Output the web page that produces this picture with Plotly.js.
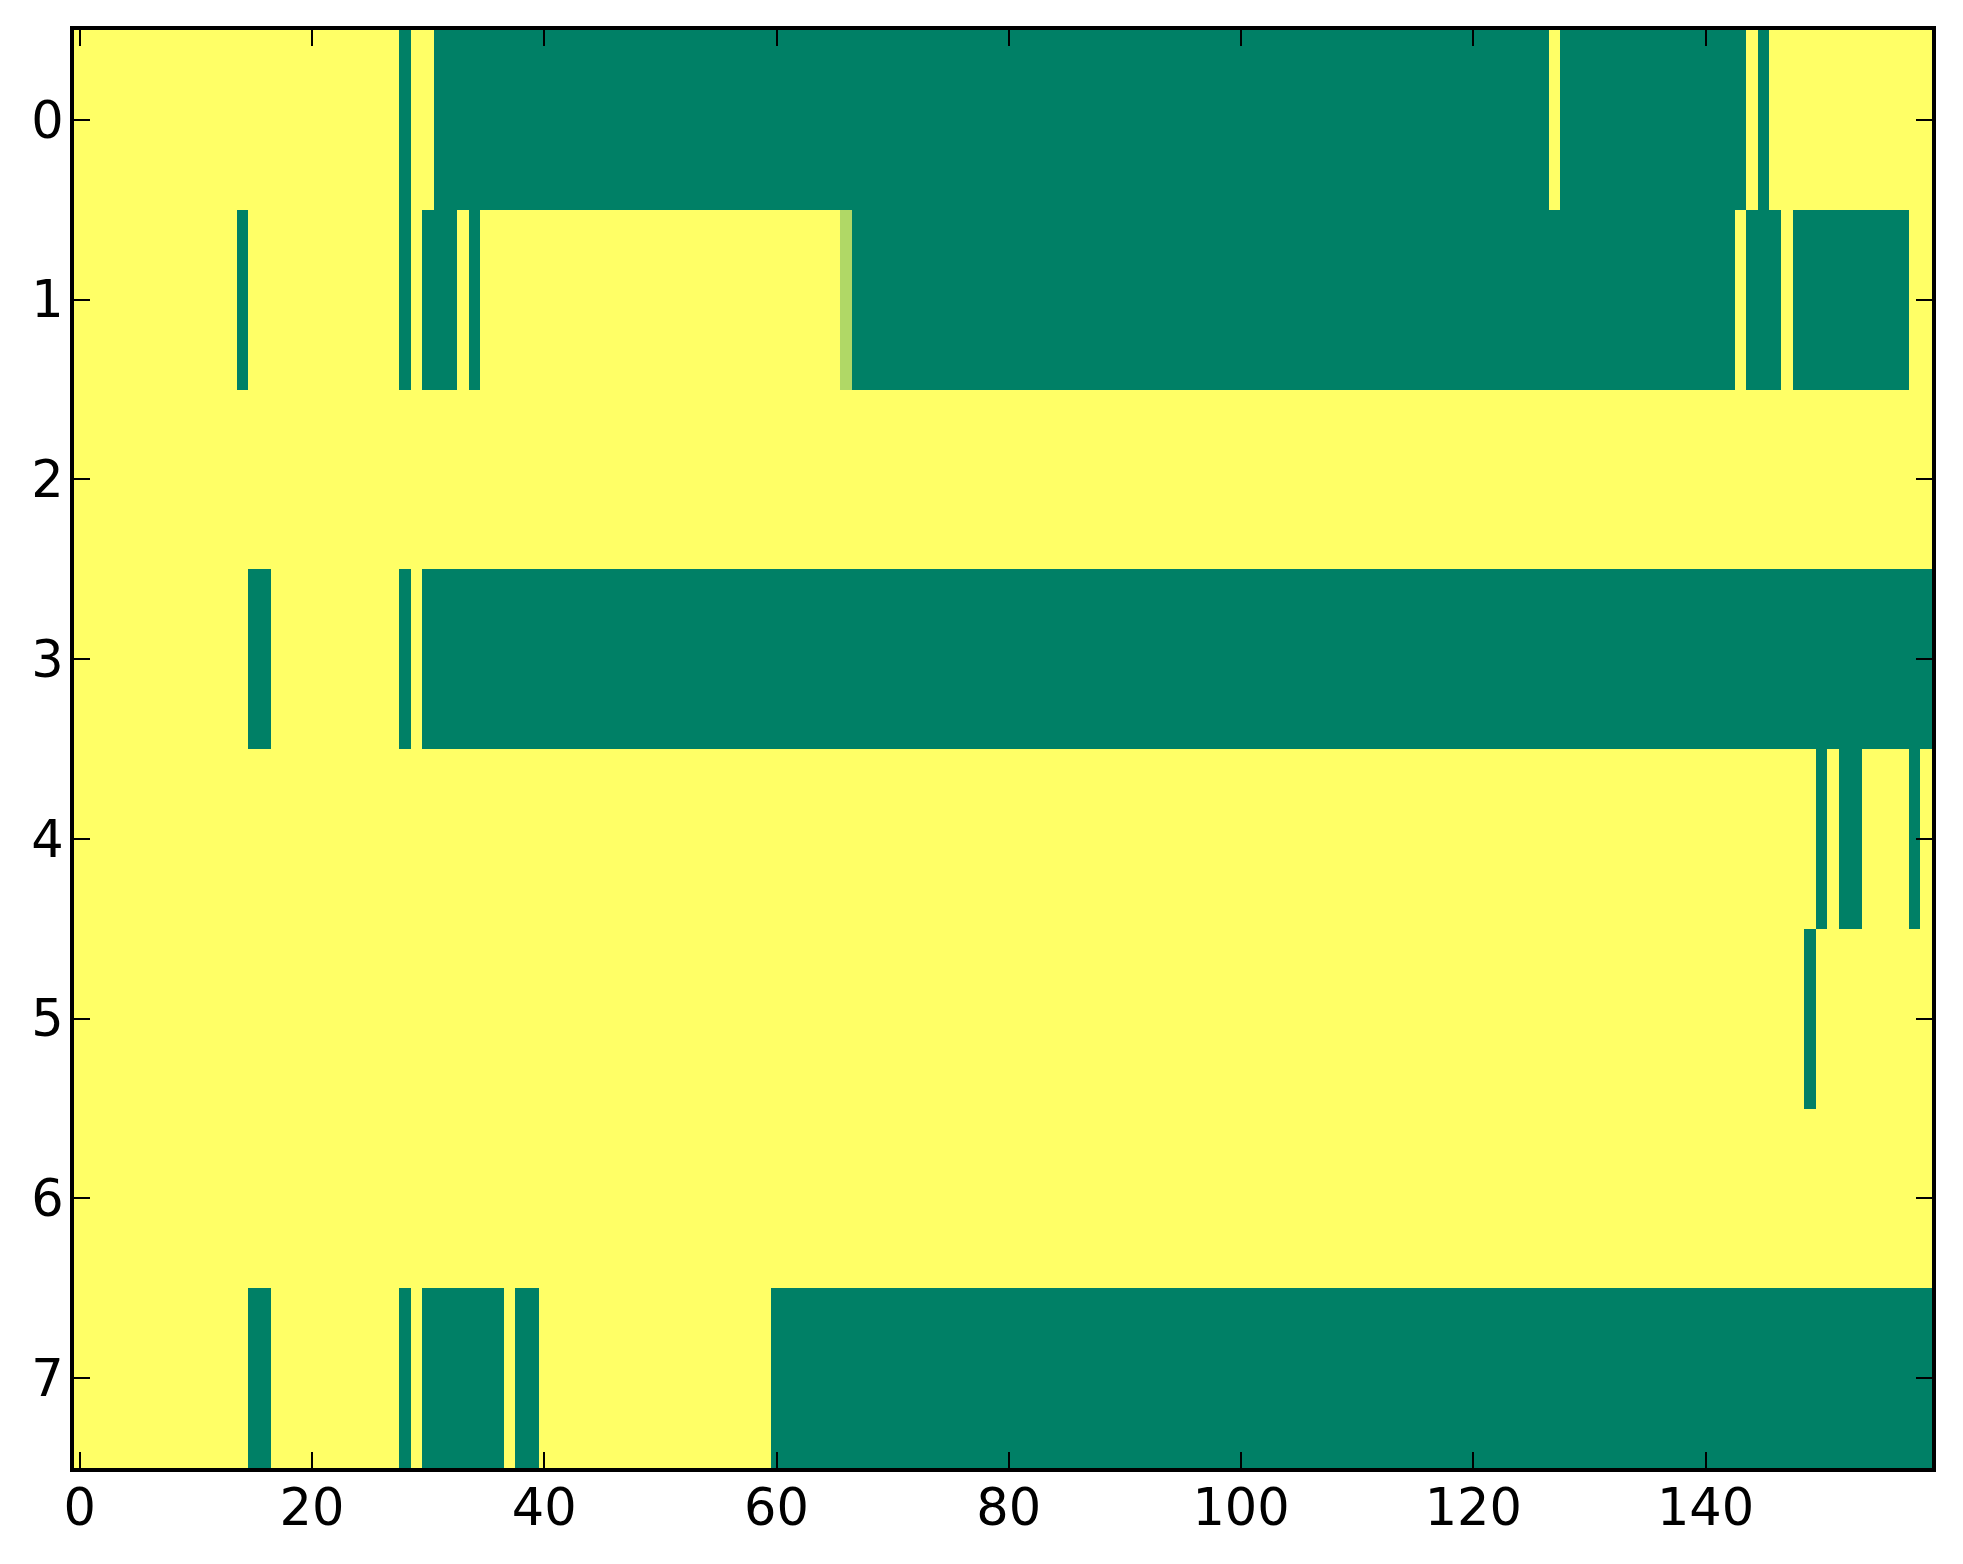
<!DOCTYPE html>
<html>
<head>
<meta charset="utf-8">
<script src="https://cdn.plot.ly/plotly-3.0.1.min.js"></script>
<style>
html,body{margin:0;padding:0;background:#fff;}
#chart{width:1963px;height:1564px;}
</style>
</head>
<body>
<div id="chart"></div>
<script>
// Cell values: 1 = high (yellow), 0 = low (green)
const row0 = [
  1,1,1,1,1,1,1,1,1,1,
  1,1,1,1,1,1,1,1,1,1,
  1,1,1,1,1,1,1,1,0,1,
  1,0,0,0,0,0,0,0,0,0,
  0,0,0,0,0,0,0,0,0,0,
  0,0,0,0,0,0,0,0,0,0,
  0,0,0,0,0,0,0,0,0,0,
  0,0,0,0,0,0,0,0,0,0,
  0,0,0,0,0,0,0,0,0,0,
  0,0,0,0,0,0,0,0,0,0,
  0,0,0,0,0,0,0,0,0,0,
  0,0,0,0,0,0,0,0,0,0,
  0,0,0,0,0,0,0,1,0,0,
  0,0,0,0,0,0,0,0,0,0,
  0,0,0,0,1,0,1,1,1,1,
  1,1,1,1,1,1,1,1,1,1
];
const row1 = [
  1,1,1,1,1,1,1,1,1,1,
  1,1,1,1,0,1,1,1,1,1,
  1,1,1,1,1,1,1,1,0,1,
  0,0,0,1,0,1,1,1,1,1,
  1,1,1,1,1,1,1,1,1,1,
  1,1,1,1,1,1,1,1,1,1,
  1,1,1,1,1,1,0.69,0,0,0,
  0,0,0,0,0,0,0,0,0,0,
  0,0,0,0,0,0,0,0,0,0,
  0,0,0,0,0,0,0,0,0,0,
  0,0,0,0,0,0,0,0,0,0,
  0,0,0,0,0,0,0,0,0,0,
  0,0,0,0,0,0,0,0,0,0,
  0,0,0,0,0,0,0,0,0,0,
  0,0,0,1,0,0,0,1,0,0,
  0,0,0,0,0,0,0,0,1,1
];
const row2 = [
  1,1,1,1,1,1,1,1,1,1,
  1,1,1,1,1,1,1,1,1,1,
  1,1,1,1,1,1,1,1,1,1,
  1,1,1,1,1,1,1,1,1,1,
  1,1,1,1,1,1,1,1,1,1,
  1,1,1,1,1,1,1,1,1,1,
  1,1,1,1,1,1,1,1,1,1,
  1,1,1,1,1,1,1,1,1,1,
  1,1,1,1,1,1,1,1,1,1,
  1,1,1,1,1,1,1,1,1,1,
  1,1,1,1,1,1,1,1,1,1,
  1,1,1,1,1,1,1,1,1,1,
  1,1,1,1,1,1,1,1,1,1,
  1,1,1,1,1,1,1,1,1,1,
  1,1,1,1,1,1,1,1,1,1,
  1,1,1,1,1,1,1,1,1,1
];
const row3 = [
  1,1,1,1,1,1,1,1,1,1,
  1,1,1,1,1,0,0,1,1,1,
  1,1,1,1,1,1,1,1,0,1,
  0,0,0,0,0,0,0,0,0,0,
  0,0,0,0,0,0,0,0,0,0,
  0,0,0,0,0,0,0,0,0,0,
  0,0,0,0,0,0,0,0,0,0,
  0,0,0,0,0,0,0,0,0,0,
  0,0,0,0,0,0,0,0,0,0,
  0,0,0,0,0,0,0,0,0,0,
  0,0,0,0,0,0,0,0,0,0,
  0,0,0,0,0,0,0,0,0,0,
  0,0,0,0,0,0,0,0,0,0,
  0,0,0,0,0,0,0,0,0,0,
  0,0,0,0,0,0,0,0,0,0,
  0,0,0,0,0,0,0,0,0,0
];
const row4 = [
  1,1,1,1,1,1,1,1,1,1,
  1,1,1,1,1,1,1,1,1,1,
  1,1,1,1,1,1,1,1,1,1,
  1,1,1,1,1,1,1,1,1,1,
  1,1,1,1,1,1,1,1,1,1,
  1,1,1,1,1,1,1,1,1,1,
  1,1,1,1,1,1,1,1,1,1,
  1,1,1,1,1,1,1,1,1,1,
  1,1,1,1,1,1,1,1,1,1,
  1,1,1,1,1,1,1,1,1,1,
  1,1,1,1,1,1,1,1,1,1,
  1,1,1,1,1,1,1,1,1,1,
  1,1,1,1,1,1,1,1,1,1,
  1,1,1,1,1,1,1,1,1,1,
  1,1,1,1,1,1,1,1,1,1,
  0,1,0,0,1,1,1,1,0,1
];
const row5 = [
  1,1,1,1,1,1,1,1,1,1,
  1,1,1,1,1,1,1,1,1,1,
  1,1,1,1,1,1,1,1,1,1,
  1,1,1,1,1,1,1,1,1,1,
  1,1,1,1,1,1,1,1,1,1,
  1,1,1,1,1,1,1,1,1,1,
  1,1,1,1,1,1,1,1,1,1,
  1,1,1,1,1,1,1,1,1,1,
  1,1,1,1,1,1,1,1,1,1,
  1,1,1,1,1,1,1,1,1,1,
  1,1,1,1,1,1,1,1,1,1,
  1,1,1,1,1,1,1,1,1,1,
  1,1,1,1,1,1,1,1,1,1,
  1,1,1,1,1,1,1,1,1,1,
  1,1,1,1,1,1,1,1,1,0,
  1,1,1,1,1,1,1,1,1,1
];
const row6 = [
  1,1,1,1,1,1,1,1,1,1,
  1,1,1,1,1,1,1,1,1,1,
  1,1,1,1,1,1,1,1,1,1,
  1,1,1,1,1,1,1,1,1,1,
  1,1,1,1,1,1,1,1,1,1,
  1,1,1,1,1,1,1,1,1,1,
  1,1,1,1,1,1,1,1,1,1,
  1,1,1,1,1,1,1,1,1,1,
  1,1,1,1,1,1,1,1,1,1,
  1,1,1,1,1,1,1,1,1,1,
  1,1,1,1,1,1,1,1,1,1,
  1,1,1,1,1,1,1,1,1,1,
  1,1,1,1,1,1,1,1,1,1,
  1,1,1,1,1,1,1,1,1,1,
  1,1,1,1,1,1,1,1,1,1,
  1,1,1,1,1,1,1,1,1,1
];
const row7 = [
  1,1,1,1,1,1,1,1,1,1,
  1,1,1,1,1,0,0,1,1,1,
  1,1,1,1,1,1,1,1,0,1,
  0,0,0,0,0,0,0,1,0,0,
  1,1,1,1,1,1,1,1,1,1,
  1,1,1,1,1,1,1,1,1,1,
  0,0,0,0,0,0,0,0,0,0,
  0,0,0,0,0,0,0,0,0,0,
  0,0,0,0,0,0,0,0,0,0,
  0,0,0,0,0,0,0,0,0,0,
  0,0,0,0,0,0,0,0,0,0,
  0,0,0,0,0,0,0,0,0,0,
  0,0,0,0,0,0,0,0,0,0,
  0,0,0,0,0,0,0,0,0,0,
  0,0,0,0,0,0,0,0,0,0,
  0,0,0,0,0,0,0,0,0,0
];

const xTicks = [0, 20, 40, 60, 80, 100, 120, 140];
const yTicks = [0, 1, 2, 3, 4, 5, 6, 7];

const z = [row0, row1, row2, row3, row4, row5, row6, row7];

const axisCommon = {
  showline: true,
  linecolor: '#000',
  linewidth: 4,
  mirror: 'ticks',
  ticks: 'inside',
  ticklen: 16,
  tickwidth: 2,
  tickcolor: '#000',
  showgrid: false,
  zeroline: false,
  tickfont: {family: 'DejaVu Sans', size: 51, color: '#000'}
};

const trace = {
  type: 'heatmap',
  z: z,
  zmin: 0,
  zmax: 1,
  colorscale: [[0, '#008066'], [1, '#ffff66']],
  showscale: false,
  hoverinfo: 'x+y+z'
};

const layout = {
  width: 1963,
  height: 1564,
  margin: {l: 74, r: 31, t: 30, b: 96},
  paper_bgcolor: '#fff',
  plot_bgcolor: '#fff',
  showlegend: false,
  xaxis: Object.assign({}, axisCommon, {
    range: [-0.5, 159.5],
    tickmode: 'array',
    tickvals: xTicks,
    ticktext: xTicks.map(String),
    ticklabelstandoff: -8
  }),
  yaxis: Object.assign({}, axisCommon, {
    range: [7.5, -0.5],
    tickmode: 'array',
    tickvals: yTicks,
    ticktext: yTicks.map(String),
    ticklabelstandoff: -4
  })
};

Plotly.newPlot('chart', [trace], layout, {displayModeBar: false, staticPlot: true});
</script>
</body>
</html>
